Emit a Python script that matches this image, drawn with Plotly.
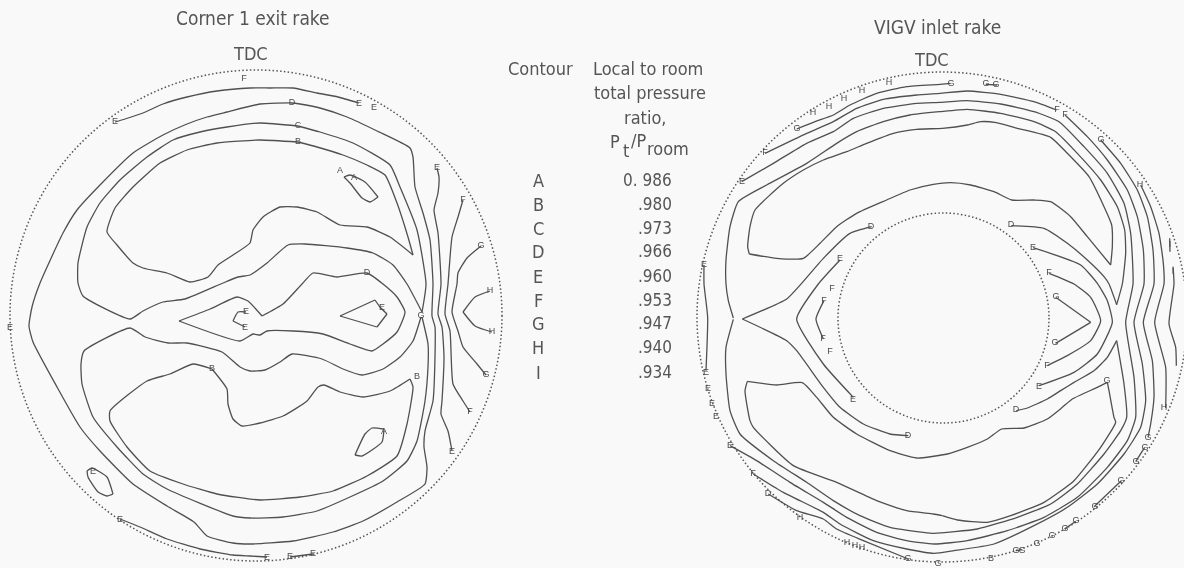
import math
import plotly.graph_objects as go


# ---------- table ----------
contour_letters = ["A", "B", "C", "D", "E", "F", "G", "H", "I"]
ratio_values = ["0. 986", ".980", ".973", ".966", ".960", ".953", ".947", ".940", ".934"]
row_y = [180, 204, 228, 251, 276, 300, 323, 347, 372]

# ---------- left rake ----------
left_E_top = [(115,122),(125,119),(143,113),(163,104),(187,97),(217,91),(250,88),(270,88),(293,88),(317,93),(338,97),(359,103)]
left_D_outer = [(292,103),(300,104),(320,108),(347,117),(377,131),(410,148),(413,157),(415,187),(423,213),(430,240),(433,284),
    (432,316),(435,327),(435,357),(433,401),(425,431),(424,447),(427,467),(425,484),(397,502),(363,521),(333,532),(293,541),(250,544),
    (233,543),(207,536),(194,522),(167,506),(133,484),(100,451),(80,427),(57,387),(33,342),(29,326),(32,307),(40,283),
    (63,233),(77,210),(100,185),(133,153),(163,135),(187,124),(207,117),(227,112),(260,104),(292,103)]
left_C_upper = [(298,126),(320,132),(353,143),(390,165),(400,187),(417,230),(426,284),(422,312),(407,284),(393,265),(373,253),(347,248),
    (305,244),(288,245),(267,263),(250,275),(238,277),(223,283),(185,299),(163,302),(143,311),(130,319),(83,296),(78,283),(78,263),
    (87,227),(100,203),(120,180),(147,157),(173,140),(200,132),(227,127),(260,123),(298,126)]
left_C_lower = [(422,317),(428,344),(428,367),(425,401),(417,441),(407,461),(383,481),(350,497),(317,511),(283,517),(250,518),(233,516),
    (167,489),(143,474),(117,447),(93,417),(82,384),(81,364),(84,351),(130,328),(145,337),(168,343),(187,343),(222,352),(240,367),
    (250,371),(265,370),(280,362),(292,354),(322,359),(343,369),(362,375),(383,369),(400,357),(413,341),(421,317)]
left_B_upper = [(298,142),(317,147),(343,155),(367,165),(385,175),(397,203),(408,237),(413,255),(390,237),(367,227),(340,225),(317,212),
    (297,207),(280,207),(263,217),(253,230),(250,243),(233,255),(218,265),(208,277),(190,282),(167,273),(143,268),(133,263),(117,245),
    (107,232),(115,208),(133,187),(160,163),(187,150),(217,143),(260,140),(298,142)]
left_B_lower = [(212,369),(193,364),(170,374),(147,381),(110,411),(110,421),(127,447),(150,471),(183,484),(217,494),(260,500),(300,497),
    (333,491),(367,476),(397,456),(407,424),(413,387),(410,379),(390,391),(363,397),(340,392),(324,385),(318,387),(307,401),(283,416),
    (260,423),(242,426),(233,419),(228,404),(227,389),(212,369)]
left_D_inner = [(179,321),(210,309),(237,297),(248,301),(262,316),(283,304),(302,284),(313,273),(337,277),(367,273),(383,284),(397,297),
    (405,312),(397,332),(383,344),(372,351),(350,344),(323,334),(293,331),(267,331),(260,335),(253,334),(240,341),(179,321)]
left_E_small = [(246,312),(238,312),(233,321),(245,327)]
left_E_triangle = [(340,316),(375,300),(380,307),(387,314),(377,327),(340,316)]
left_A_upper = [(344,177),(350,175),(365,182),(378,197),(370,202),(362,198),(350,183),(344,177)]
left_A_lower = [(384,429),(372,428),(365,434),(355,455),(362,456),(382,442),(384,429)]
left_E_blob = [(87,471),(92,468),(107,477),(113,494),(107,496),(98,492),(88,477),(87,471)]
left_E_bottom = [(120,519),(140,527),(167,539),(200,549),(233,555),(250,556),(267,557)]
left_E_stub = [(290,557),(313,554)]
left_E_right = [(437,168),(439,177),(438,193),(434,210),(438,233),(441,284),(438,314),(442,327),(444,357),(442,401),(441,414),(448,431),(452,451)]
left_F_right = [(463,200),(458,217),(452,237),(448,284),(445,314),(450,331),(453,384),(463,401),(470,412)]
left_G_right = [(481,246),(467,258),(458,273),(457,284),(452,312),(458,331),(463,347),(477,364),(486,375)]
left_H_right = [(490,291),(475,297),(463,312),(475,326),(492,332)]

# ---------- right rake: crop origins ----------
UL = (690, 0)
UR = (934, 0)
LL = (690, 284)
LR = (934, 284)

def read(*runs):
    """Turn runs of (crop, [points in that 3x crop]) into one line in picture units."""
    return [(c[0] + x / 3, c[1] + y / 3) for c, pts in runs for x, y in pts]

right_G_top = read((UL, [(320,387),(375,365),(430,345),(480,315),(560,280),(650,260),(750,253)]), (UR, [(50,250)]))
right_F_top = read((UL, [(225,460),(350,400),(430,365),(500,325),(580,298),(680,285),(750,280)]),
                   (UR, [(100,273),(200,283),(300,305),(368,330)]))
right_E_ring = read((UL, [(155,545),(250,490),(350,430),(430,395),(490,355),(580,325),(680,310),(750,307)]),
                    (UR, [(100,302),(200,312),(300,335),(375,365),(450,440),(520,520),(570,610),(590,700),(597,852)]),
                    (LR, [(575,115),(600,280),(605,400),(580,470),(520,550),(430,640),(330,700),(220,740),(100,770),(0,780)]),
                    (LL, [(650,770),(560,745),(470,700),(400,655),(300,595),(200,530),(120,485)]))
right_F_ring = read((UR, [(393,345),(460,410),(520,480),(580,570),(610,650),(628,750),(630,852)]),
                    (LR, [(600,115),(625,240),(635,350),(620,430),(570,510),(490,600),(400,670),(300,725),(180,780),(60,800),(0,808)]),
                    (LL, [(650,795),(550,770),(450,720),(400,685),(280,625),(190,570)]))
right_G_ring = read((UR, [(500,420),(560,490),(610,570),(640,650),(657,750),(660,852)]),
                    (LR, [(628,115),(655,230),(660,340),(650,420),(642,460)]))
right_G_lower = read((LL, [(235,630),(320,680),(400,705),(440,735),(520,770),(655,825)]))
right_H_ring = read((UR, [(620,555),(650,620),(675,700),(688,790),(690,852)]),
                    (LR, [(662,115),(695,250),(695,372)]))
right_I_long = read((UR, [(717,800),(720,852)]), (LR, [(705,120),(725,190),(727,245)]))
right_I_short = read((UR, [(707,715),(708,755)]))
right_D_upper = read((UR, [(232,677),(330,685),(400,730),(460,780),(510,830),(525,852)]),
                     (LR, [(548,62)]),
                     (UR, [(565,852),(575,760),(572,690),(550,620),(500,540),(430,460),(365,395),(300,365),(200,340),(100,328)]),
                     (UL, [(750,335),(660,345),(580,365),(500,395),(440,430),(350,490),(230,555),(145,605),(120,680),(108,780),(108,852)]),
                     (LL, [(115,50),(130,102)]))
right_D_lower = read((LL, [(130,106),(108,190),(108,270),(120,380),(150,450),(250,530),(350,595),(430,650),(510,695),(600,730),(700,745)]),
                     (LR, [(0,748),(130,735),(250,700),(350,660),(430,600),(510,510),(560,440),(578,400),(570,300),(548,170),
                           (520,220),(480,260),(420,295),(380,320),(340,345),(280,372),(247,380)]))
right_D_left = read((UL, [(545,680),(480,700),(400,775),(335,850)]),
                    (LL, [(290,45),(157,105),(290,170),(320,200),(400,310),(450,370),(520,420),(600,450),(655,455)]))
right_lobe_upper = read((UR, [(530,795),(535,740),(533,675),(510,620),(465,530),(400,460),(350,412),(250,385),(187,368),(140,365),(100,375),(25,385)]),
                        (UL, [(680,388),(610,400),(530,430),(470,455),(400,480),(340,510),(280,550),(195,630),(180,680),(173,740),(178,762),
                              (260,775),(340,775),(390,730),(440,680),(500,640),(590,600),(660,570),(730,553)]),
                        (UR, [(50,548),(110,555),(180,575),(233,600),(300,600),(350,605),(410,650),(460,710),(530,795)]))
right_lobe_lower = read((LR, [(25,695),(70,708),(160,715),(230,695),(330,655),(420,590),(500,490),(545,415),(540,400),(525,320),(520,295),
                              (490,310),(415,345),(385,370),(340,405),(270,432),(203,435),(160,465),(100,490),(40,510)]),
                        (LL, [(680,522),(600,500),(500,450),(430,400),(380,340),(337,296),(260,303),(172,292),(165,320),(180,410),(190,430),
                              (310,545),(440,595),(560,650),(650,680),(730,690)]),
                        (LR, [(25,695)]))
right_E_left_inner = read((UL, [(450,780),(385,852)]), (LL, [(320,105),(400,240),(490,340)]))
right_E_nose = read((UR, [(297,743),(440,795),(490,850)]), (LR, [(520,50),(535,115),(490,210),(420,265),(315,305)]))
right_F_nose = read((UR, [(345,820),(420,852)]), (LR, [(470,40),(500,110),(470,170),(400,215),(340,245)]))
right_G_nose = read((LR, [(365,40),(470,115),(365,178)]))
right_F_left = read((LL, [(402,50),(378,105),(400,165)]))
right_E_edge = read((UL, [(42,795),(42,852)]), (LL, [(53,100),(48,260)]))
right_stub_1 = read((LR, [(605,533),(632,490)]))
right_stub_2 = read((LR, [(562,590),(480,668)]))
right_stub_3 = read((LR, [(425,712),(392,735)]))
right_stub_4 = read((LR, [(245,800),(265,797)]))
right_stub_top = read((UR, [(155,253),(190,255)]))

left_lines = [left_E_top, left_D_outer, left_C_upper, left_C_lower, left_B_upper, left_B_lower, left_D_inner, left_E_small,
              left_E_triangle, left_A_upper, left_A_lower, left_E_blob, left_E_bottom, left_E_stub, left_E_right,
              left_F_right, left_G_right, left_H_right]
right_lines = [right_G_top, right_F_top, right_E_ring, right_F_ring, right_G_ring, right_G_lower, right_H_ring, right_I_long, right_I_short,
               right_D_upper, right_D_lower, right_D_left, right_lobe_upper, right_lobe_lower, right_E_left_inner, right_E_nose,
               right_F_nose, right_G_nose, right_F_left, right_E_edge,
               right_stub_1, right_stub_2, right_stub_3, right_stub_4, right_stub_top]

# contour tags
tags = [("F",244,79),("E",115,122),("D",292,103),("E",359,104),("E",374,108),("C",298,126),("B",298,142),("A",340,171),("A",354,178),
    ("E",437,168),("F",463,200),("G",481,246),("D",367,273),("G",421,316),("H",490,291),("H",492,332),("B",417,377),("B",212,369),
    ("E",246,312),("E",245,328),("E",382,308),("A",384,432),("E",93,472),("E",120,520),("E",10,328),("E",267,558),("E",290,557),("E",313,554),
    ("F",470,412),("E",452,452),("G",486,375),
    ("G",797,129),("F",765,153),("E",742,182),("H",889,83),("H",813,113),("H",829,107),("H",844,99),("H",862,91),("G",951,84),("G",986,84),("G",996,85),
    ("F",1057,110),("F",1065,115),("G",1101,140),("H",1140,185),("I",1170,245),("I",1173,272),("D",1011,225),("E",1033,248),("F",1049,273),
    ("D",871,227),("E",840,259),("E",704,265),("G",1056,297),("G",1055,343),("F",1047,366),("E",1039,387),("D",1016,410),("G",1107,381),
    ("H",1164,408),("G",1148,438),("G",1145,448),("G",1136,462),("G",1121,481),("G",1095,507),("G",1076,521),("G",1065,529),("G",1016,551),
    ("G",1022,551),("G",1037,544),("G",1052,536),("B",991,559),("G",938,564),("F",832,289),("F",824,301),("F",823,339),("F",830,352),
    ("E",706,373),("E",708,389),("E",712,404),("E",716,417),("E",730,446),("F",753,474),("D",768,494),("H",800,518),("H",847,543),("H",855,546),
    ("H",862,548),("G",908,559),("D",908,436),("E",853,400)]

INK = "#505050"
TEXT = "#555555"
FONT = "DejaVu Sans Condensed, Liberation Sans, sans-serif"

def pieces(line, limit=65):
    """Split a contour at its sharp tips so that the spline keeps them sharp."""
    out, cur = [], [line[0]]
    for i in range(1, len(line) - 1):
        cur.append(line[i])
        a = math.atan2(line[i][1] - line[i-1][1], line[i][0] - line[i-1][0])
        b = math.atan2(line[i+1][1] - line[i][1], line[i+1][0] - line[i][0])
        turn = abs((b - a + math.pi) % (2 * math.pi) - math.pi)
        if math.degrees(turn) > limit:
            out.append(cur)
            cur = [line[i]]
    cur.append(line[-1])
    out.append(cur)
    return out

fig = go.Figure()
for line in left_lines + right_lines:
    for piece in pieces(line):
        fig.add_trace(go.Scatter(x=[p[0] for p in piece], y=[p[1] for p in piece], mode="lines",
                                 line=dict(color=INK, width=1.3, shape="spline", smoothing=0.5), hoverinfo="skip", showlegend=False))
fig.add_trace(go.Scatter(x=[t[1] for t in tags], y=[t[2] for t in tags], text=[t[0] for t in tags], mode="text",
                         textfont=dict(size=9, color="#4a4a4a", family="Liberation Sans"), textposition="middle center",
                         opacity=0.99, hoverinfo="skip", showlegend=False))

circle = dict(type="circle", xref="x", yref="y", line=dict(color="#555555", width=1.5, dash="1.5px,2.3px"), layer="below")
fig.add_shape(x0=10, x1=502, y0=70, y1=561, **circle)
fig.add_shape(x0=697, x1=1187, y0=72, y1=562, **circle)
fig.add_shape(x0=838, x1=1049, y0=213, y1=423, **circle)

def note(text, x, y, size=18, anchor="center"):
    fig.add_annotation(x=x, y=y, text=text, showarrow=False, xanchor=anchor, yanchor="middle",
                       font=dict(size=size, color=TEXT, family=FONT))

note("Corner 1 exit rake", 253, 18, size=19)
note("TDC", 250, 53)
note("VIGV inlet rake", 937, 27, size=19)
note("TDC", 931, 59)
note("Contour", 540, 68)
note("Local to room", 648, 68)
note("total pressure", 650, 92)
note("ratio,", 645, 117)
note("P", 615, 141)
note("t", 626, 150)
note("/P", 638, 140)
note("room", 668, 148)
for letter, value, y in zip(contour_letters, ratio_values, row_y):
    note(letter, 538, y)
    note(value, 674, y, anchor="right", size=17)

fig.update_layout(
    width=1184, height=568, margin=dict(l=0, r=0, t=0, b=0),
    paper_bgcolor="#f9f9f9", plot_bgcolor="#f9f9f9", showlegend=False,
    xaxis=dict(range=[0, 1184], visible=False, fixedrange=True),
    yaxis=dict(range=[568, 0], visible=False, fixedrange=True),
)
fig.write_html("out.html", post_script="document.body.style.margin='0';document.body.style.background='#f9f9f9';",
               config={"displayModeBar": False})
